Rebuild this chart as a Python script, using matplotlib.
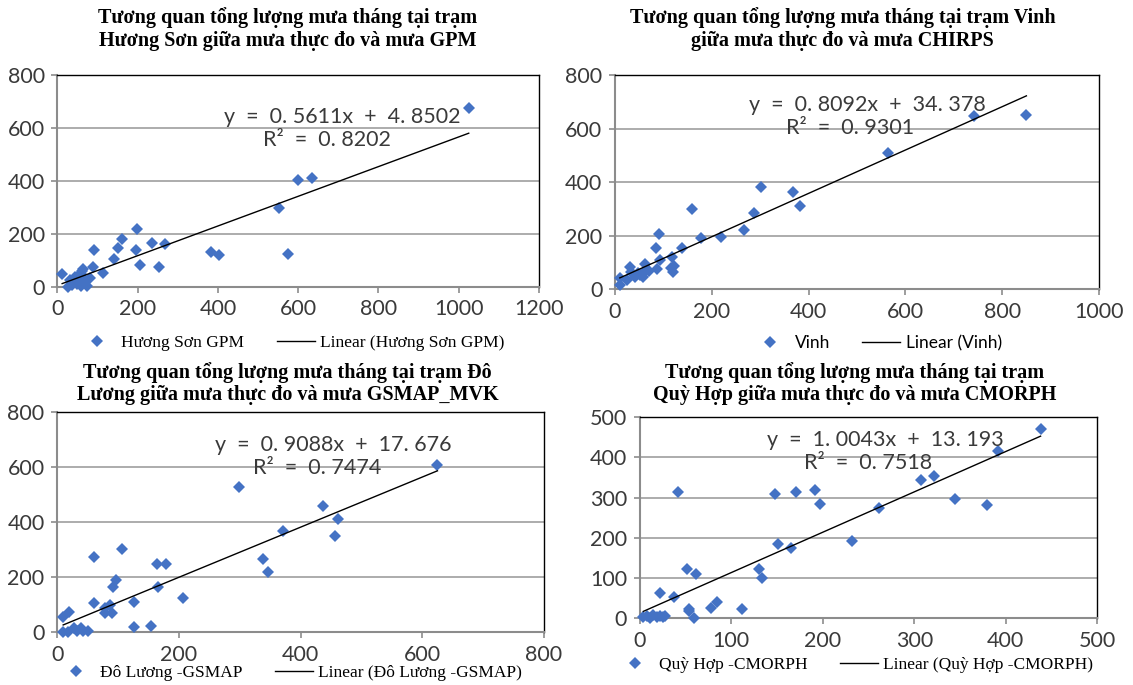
import numpy as np
import matplotlib
matplotlib.use("Agg")
import matplotlib.pyplot as plt
from matplotlib.lines import Line2D

# ---- data ----
hs_x = [1025, 635, 600, 552, 575, 384, 404, 268, 235, 254, 206, 198, 196, 160, 152, 140,
        115, 92, 90, 82, 65, 58, 73, 58, 12, 32, 27, 36, 48, 56, 40, 45, 52, 62, 70, 50]
hs_y = [674, 411, 402, 299, 125, 131, 118, 160, 166, 74, 83, 218, 139, 180, 147, 105,
        53, 139, 73, 34, 66, 48, 3, 3, 48, 25, 0, 6, 32, 48, 15, 38, 20, 58, 25, 10]
hs_fit = (0.5611, 4.8502)

vinh_x = [850, 741, 564, 383, 367, 302, 287, 267, 219, 177, 160, 138, 118, 122, 115, 120,
          93, 90, 85, 86, 71, 62, 58, 48, 31, 34, 24, 10, 10, 41, 52, 65]
vinh_y = [650, 647, 510, 311, 364, 381, 286, 221, 195, 193, 300, 153, 122, 87, 78, 66,
          108, 206, 153, 75, 69, 94, 47, 60, 82, 66, 35, 41, 16, 47, 53, 72]
vinh_fit = (0.8092, 34.378)

dl_x = [625, 461, 457, 437, 372, 339, 346, 299, 207, 179, 166, 164, 155, 127, 126, 106,
        97, 92, 87, 91, 79, 79, 61, 60, 20, 10, 10, 18, 27, 32, 39, 43, 50]
dl_y = [607, 410, 349, 459, 367, 266, 220, 528, 125, 249, 165, 249, 23, 20, 111, 301,
        190, 163, 99, 69, 87, 69, 105, 272, 72, 57, 2, 2, 14, 5, 14, 5, 3]
dl_fit = (0.9088, 17.676)

qh_x = [438, 392, 380, 345, 322, 307, 262, 232, 197, 192, 171, 165, 151, 148, 134, 130,
        112, 85, 78, 62, 59, 54, 54, 52, 42, 38, 22, 4, 8, 11, 15, 19, 22, 26, 28]
qh_y = [472, 417, 281, 297, 354, 344, 274, 193, 284, 319, 313, 174, 184, 309, 100, 122,
        24, 40, 25, 110, 0, 18, 23, 122, 315, 54, 62, 2, 6, 0, 8, 3, 5, 2, 6]
qh_fit = (1.0043, 13.193)

W, H = 1133, 685
fig = plt.figure(figsize=(W / 100, H / 100), dpi=100)

SERIF = ["Liberation Serif", "DejaVu Serif"]
SANS = ["Lato", "DejaVu Sans"]
BLUE = "#4472C4"
TXT = "#3a3a3a"


def panel(rect, xs, ys, fit, xmax, ymax, xstep, ystep, title, tpos,
          eq_pos, r2_pos, r2, leg_labels, leg_pos, leg_font):
    ax = fig.add_axes(rect)
    ax.set_xlim(0, xmax)
    ax.set_ylim(0, ymax)
    ax.set_xticks(np.arange(0, xmax + 1, xstep))
    ax.set_yticks(np.arange(0, ymax + 1, ystep))
    ax.yaxis.grid(True, color="#a6a6a6", lw=1.3)
    ax.set_axisbelow(True)
    for s in ["top", "right"]:
        ax.spines[s].set_color("black")
        ax.spines[s].set_linewidth(1.0)
    for s in ["left", "bottom"]:
        ax.spines[s].set_color("#8c8c8c")
        ax.spines[s].set_linewidth(1.5)
    ax.tick_params(length=4, color="#8c8c8c", width=1.2, labelsize=15.5,
                   labelcolor=TXT, pad=5)
    for lab in ax.get_xticklabels() + ax.get_yticklabels():
        lab.set_family(SANS)

    ax.plot(xs, ys, "D", color=BLUE, ms=6, mew=0, clip_on=False, zorder=3)
    a, b = fit
    xl = np.array([min(xs), max(xs)])
    ax.plot(xl, a * xl + b, color="black", lw=1.0, zorder=4)

    eq = "y  =  %s  +  %s" % (("%.4fx" % a).replace(".", ". "),
                              ("%g" % b).replace(".", ". "))
    ax.text(eq_pos[0], eq_pos[1], eq, ha="center", va="center", fontsize=15.5,
            family=SANS, color=TXT, zorder=5)
    ax.text(r2_pos[0], r2_pos[1], "R²  =  " + r2.replace(".", ". "), ha="center",
            va="center", fontsize=15.5, family=SANS, color=TXT, zorder=5)

    fig.text(tpos[0], tpos[1], title, ha="center", va="center", fontsize=14.5,
             family=SERIF, fontweight="bold", linespacing=1.15)

    handles = [Line2D([], [], ls="none", marker="D", color=BLUE, ms=6, mew=0),
               Line2D([], [], color="black", lw=1.0)]
    ax.legend(handles, leg_labels, ncol=2, loc="center", frameon=False,
              bbox_to_anchor=leg_pos, bbox_transform=fig.transFigure,
              prop={"family": leg_font, "size": 12.5}, handlelength=2.2,
              handletextpad=0.3, columnspacing=1.85, borderpad=0)
    return ax


panel([0.0506, 0.5815, 0.4251, 0.309], hs_x, hs_y, hs_fit, 1200, 800, 200, 200,
      "Tương quan tổng lượng mưa tháng tại trạm\nHương Sơn giữa mưa thực đo và mưa GPM",
      (0.254, 0.9577), (711, 642), (672, 554), "0.8202",
      ["Hương Sơn GPM", "Linear (Hương Sơn GPM)"], (0.257, 0.4993), SERIF)

panel([0.5428, 0.5777, 0.4272, 0.3128], vinh_x, vinh_y, vinh_fit, 1000, 800, 200, 200,
      "Tương quan tổng lượng mưa tháng tại trạm Vinh\ngiữa mưa thực đo và mưa CHIRPS",
      (0.7437, 0.9577), (521, 688), (485, 601), "0.9301",
      ["Vinh", "Linear (Vinh)"], (0.7736, 0.4993), SANS)

panel([0.0504, 0.0769, 0.4297, 0.3221], dl_x, dl_y, dl_fit, 800, 800, 200, 200,
      "Tương quan tổng lượng mưa tháng tại trạm Đô\nLương giữa mưa thực đo và mưa GSMAP_MVK",
      (0.254, 0.4403), (453, 679), (428, 595), "0.7474",
      ["Đô Lương -GSMAP", "Linear (Đô Lương -GSMAP)"], (0.2555, 0.0175), SERIF)

panel([0.5646, 0.0974, 0.4039, 0.2934], qh_x, qh_y, qh_fit, 500, 500, 100, 100,
      "Tương quan tổng lượng mưa tháng tại trạm\nQuỳ Hợp giữa mưa thực đo và mưa CMORPH",
      (0.7546, 0.4399), (268, 443), (250, 386), "0.7518",
      ["Quỳ Hợp -CMORPH", "Linear (Quỳ Hợp -CMORPH)"], (0.7542, 0.0292), SERIF)

fig.savefig("out.png", dpi=100, facecolor="white")
